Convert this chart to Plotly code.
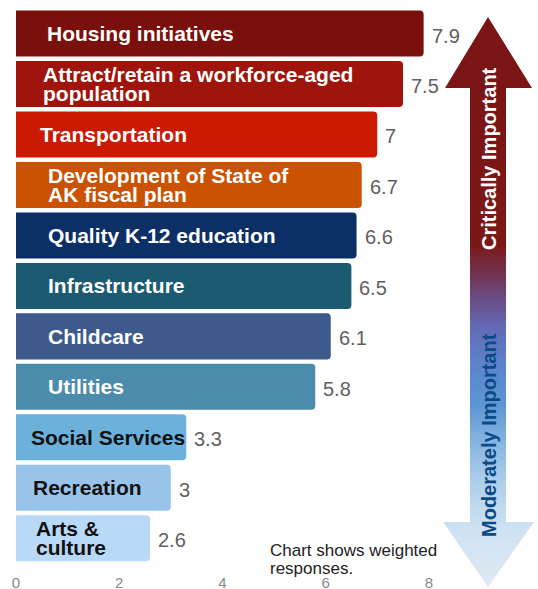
import plotly.graph_objects as go

# Priority areas and their weighted scores
categories = [
    "Housing initiatives",
    "Attract/retain a workforce-aged<br>population",
    "Transportation",
    "Development of State of<br>AK fiscal plan",
    "Quality K-12 education",
    "Infrastructure",
    "Childcare",
    "Utilities",
    "Social Services",
    "Recreation",
    "Arts &<br>culture",
]
scores = [7.9, 7.5, 7, 6.7, 6.6, 6.5, 6.1, 5.8, 3.3, 3, 2.6]
x_ticks = [0, 2, 4, 6, 8]

# Styling
bar_colors = ["#7a100b", "#a0150b", "#cc1a02", "#ca5200", "#0b2f66", "#1b5a71",
              "#3e5a8c", "#4b8bac", "#6cb0dc", "#98c4ec", "#b9d9f8"]
label_colors = ["white"] * 8 + ["#111111"] * 3
label_indent = [29, 25, 22, 30, 30, 30, 30, 30, 13, 15, 18]

W, H = 538, 589
px_unit = 51.6
x0_px = 16
x_max = 8.3
top_px, bot_px = 8.3, 563.5
FONT = "Liberation Sans, Arial, sans-serif"

fig = go.Figure()

fig.add_trace(go.Bar(
    x=scores, y=categories, orientation="h",
    marker=dict(color=bar_colors, line=dict(width=0)),
    hoverinfo="skip", showlegend=False,
))

# Decorative importance arrow, drawn in pixel space on a full-page axis pair
arrow_x = [488, 532, 506, 506, 534, 488, 443, 470, 470, 445, 488]
arrow_y = [17, 88, 88, 522, 522, 587, 522, 522, 88, 88, 17]
fig.add_trace(go.Scatter(
    x=arrow_x, y=arrow_y, xaxis="x2", yaxis="y2",
    mode="lines", line=dict(width=0), fill="toself",
    fillgradient=dict(
        type="vertical", start=17, stop=587,
        colorscale=[
            [0.0, "#7c1414"], [0.40, "#7a1818"], [0.445, "#74304a"],
            [0.49, "#6a4a80"], [0.54, "#6468b4"], [0.61, "#5a84cc"],
            [0.68, "#5c96d4"], [0.75, "#88b6e2"], [0.82, "#b0d0ec"],
            [0.90, "#cfe2f2"], [1.0, "#dfeaf3"],
        ],
    ),
    hoverinfo="skip", showlegend=False,
))

annotations = []
# Category names inside the bars
for cat, col, ind in zip(categories, label_colors, label_indent):
    lines = cat.split("<br>")
    shifts = [0] if len(lines) == 1 else [9.5, -9.5]
    for line, ys in zip(lines, shifts):
        annotations.append(dict(
            x=0, y=cat, xref="x", yref="y", xanchor="left", yanchor="middle",
            xshift=ind, yshift=ys, showarrow=False,
            text=f"<b>{line}</b>",
            font=dict(family=FONT, size=21, color=col),
        ))
# Score labels at the bar ends
for cat, v in zip(categories, scores):
    annotations.append(dict(
        x=v, y=cat, xref="x", yref="y", xanchor="left", yanchor="middle",
        xshift=6, yshift=-2, showarrow=False, text=f"{v:g}",
        font=dict(family=FONT, size=20, color="#606060"),
    ))
# Arrow captions
annotations.append(dict(
    x=489, y=159, xref="x2", yref="y2", textangle=-90, showarrow=False,
    text="<b>Critically Important</b>",
    font=dict(family=FONT, size=20, color="white"),
))
annotations.append(dict(
    x=489, y=435, xref="x2", yref="y2", textangle=-90, showarrow=False,
    text="<b>Moderately Important</b>",
    font=dict(family=FONT, size=20, color="#0b4a85"),
))
# Footnote
for line, yc in [("Chart shows weighted", 550), ("responses.", 568)]:
    annotations.append(dict(
        x=268, y=yc, xref="x2", yref="y2", xanchor="left", yanchor="middle",
        showarrow=False, text=line,
        font=dict(family=FONT, size=17, color="#222222"),
    ))

fig.update_layout(
    width=W, height=H,
    margin=dict(l=0, r=0, t=0, b=0, autoexpand=False),
    paper_bgcolor="white", plot_bgcolor="rgba(0,0,0,0)",
    bargap=0.088, barcornerradius=4,
    xaxis=dict(
        domain=[x0_px / W, (x0_px + x_max * px_unit) / W],
        range=[0, x_max], tickvals=x_ticks, ticktext=[str(t) for t in x_ticks],
        showgrid=False, zeroline=False, showline=False,
        ticks="outside", ticklen=5, tickcolor="rgba(0,0,0,0)",
        tickfont=dict(family=FONT, size=15, color="#888888"),
    ),
    yaxis=dict(
        domain=[(H - bot_px) / H, (H - top_px) / H],
        categoryorder="array", categoryarray=categories, autorange="reversed",
        showticklabels=False, showgrid=False, zeroline=False, showline=False, ticks="",
    ),
    xaxis2=dict(domain=[0, 1], range=[0, W], visible=False, anchor="y2"),
    yaxis2=dict(domain=[0, 1], range=[H, 0], visible=False, anchor="x2"),
    annotations=annotations,
)

fig.write_html("out.html")
